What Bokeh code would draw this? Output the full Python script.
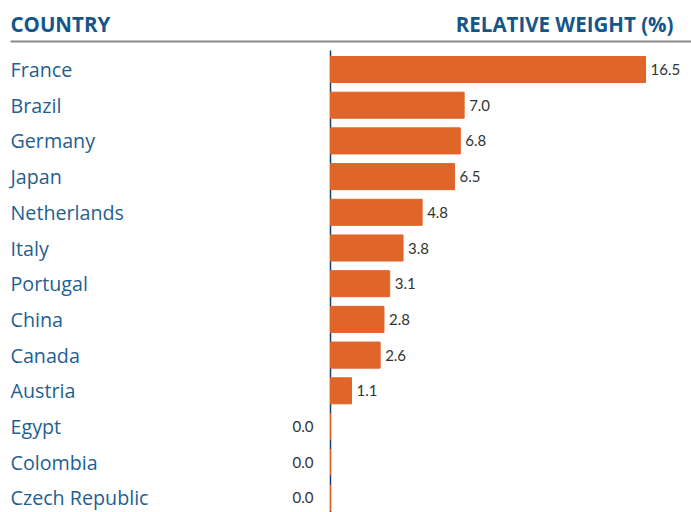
from bokeh.plotting import figure
from bokeh.models import Range1d, ColumnDataSource
from bokeh.core.properties import value
from bokeh.embed import file_html
from bokeh.resources import INLINE

countries = ["France", "Brazil", "Germany", "Japan", "Netherlands", "Italy",
             "Portugal", "China", "Canada", "Austria", "Egypt", "Colombia",
             "Czech Republic"]
weights = [16.5, 7.0, 6.8, 6.5, 4.8, 3.8, 3.1, 2.8, 2.6, 1.1, 0.0, 0.0, 0.0]
header_left = "COUNTRY"
header_right = "RELATIVE WEIGHT (%)"

W, H = 691, 512
PX = 19.09   # px per unit
ROW = 35.7
x0_px = 330.0
y0_px = 69.0

p = figure(width=W, height=H, output_backend="svg", toolbar_location=None,
           x_range=Range1d(-x0_px / PX, (W - x0_px) / PX),
           y_range=Range1d((H - y0_px) / ROW, -y0_px / ROW),
           min_border=0)
p.axis.visible = False
p.grid.visible = False
p.outline_line_color = None
p.background_fill_color = None

idx = list(range(len(countries)))
src = ColumnDataSource(dict(
    y=idx, w=weights, name=countries,
    lbl=["%.1f" % w for w in weights],
))

left_x = -x0_px / PX + 10 / PX

# header
hy = (23 - y0_px) / ROW
p.text(x=[left_x], y=[hy], text=[header_left], text_font=value("Open Sans"),
       text_font_style="bold", text_font_size="20.5px", text_color="#14568a",
       text_baseline="middle", text_align="left")
p.text(x=[(673 - x0_px) / PX], y=[hy], text=[header_right], text_font=value("Open Sans"),
       text_font_style="bold", text_font_size="20.5px", text_color="#14568a",
       text_baseline="middle", text_align="right")
p.segment(x0=[left_x], x1=[(W - x0_px) / PX + 1], y0=[(41 - y0_px) / ROW],
          y1=[(41 - y0_px) / ROW], line_color="#8a8a8a", line_width=2)

# vertical axis line
p.segment(x0=[0], x1=[0], y0=[(50 - y0_px) / ROW], y1=[len(countries)],
          line_color="#1b3d6e", line_width=1.5)

# bars
p.hbar(y="y", right="w", left=0, height=0.73, source=src,
       fill_color="#e0652a", line_color="#e0652a", line_width=1)

# country labels
p.text(x=left_x, y="y", text="name", source=src, text_font=value("Open Sans"),
       text_font_size="19.7px", text_color="#1f5f91", text_baseline="middle",
       text_align="left")

# value labels
src.data["lx"] = [w + 5 / PX if w > 0 else -17 / PX for w in weights]
src.data["la"] = ["left" if w > 0 else "right" for w in weights]
p.text(x="lx", y="y", text="lbl", source=src, text_font=value("Lato"),
       text_font_size="15px", text_color="#333333", text_baseline="middle",
       text_align="la")

open("out.html", "w").write(file_html(p, INLINE))
